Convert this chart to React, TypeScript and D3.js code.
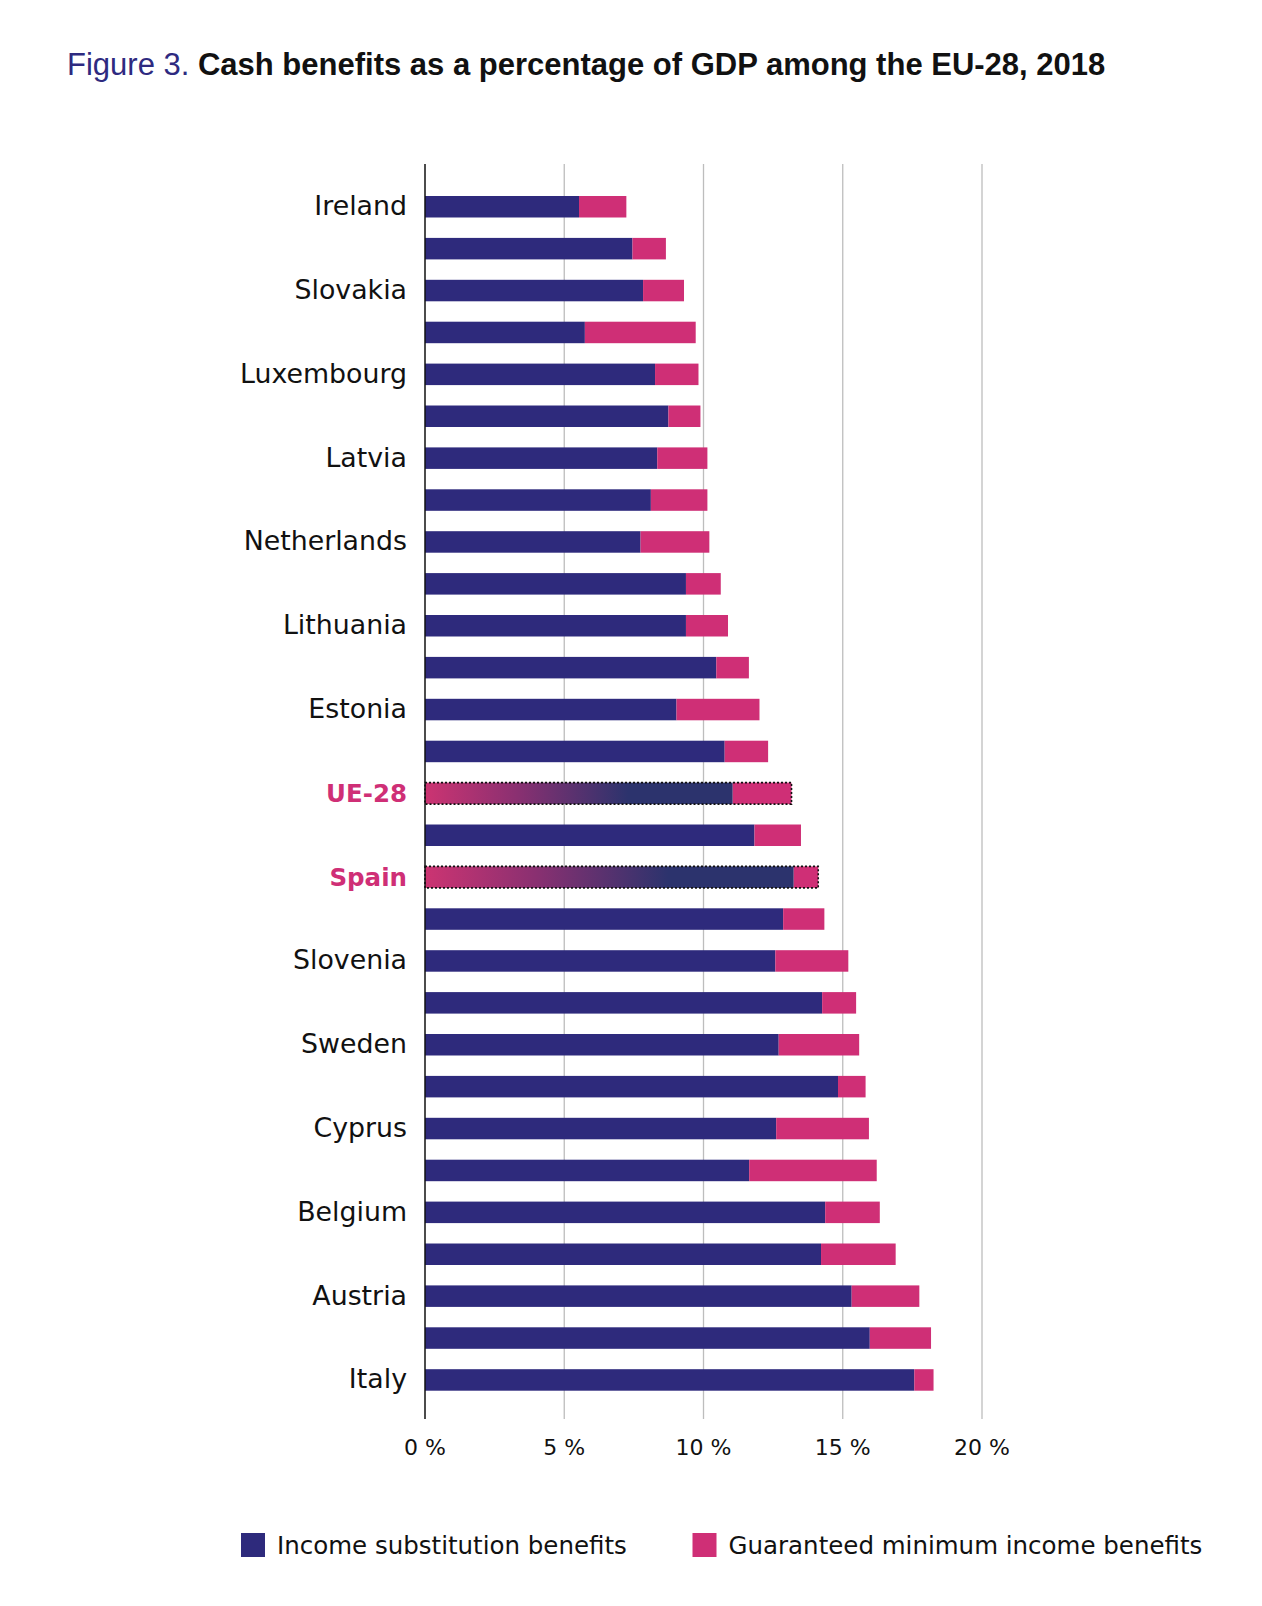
import React, { useEffect, useRef } from 'react';
import * as d3 from 'd3';

// Row labels (only every other row is labelled in the original figure)
const countries = [
  'Ireland', '', 'Slovakia', '', 'Luxembourg', '', 'Latvia', '', 'Netherlands', '',
  'Lithuania', '', 'Estonia', '', 'UE-28', '', 'Spain', '', 'Slovenia', '',
  'Sweden', '', 'Cyprus', '', 'Belgium', '', 'Austria', '', 'Italy',
];

// % of GDP
const incomeSubstitution = [
  5.53, 7.45, 7.83, 5.74, 8.26, 8.74, 8.34, 8.11, 7.74, 9.37,
  9.37, 10.46, 9.03, 10.76, 11.05, 11.83, 13.24, 12.86, 12.58, 14.26,
  12.7, 14.83, 12.61, 11.64, 14.37, 14.22, 15.32, 15.97, 17.57,
];
const guaranteedMinimum = [
  1.7, 1.2, 1.47, 3.98, 1.56, 1.15, 1.8, 2.03, 2.47, 1.25,
  1.51, 1.17, 2.98, 1.56, 2.11, 1.67, 0.88, 1.48, 2.62, 1.22,
  2.89, 0.99, 3.33, 4.58, 1.96, 2.68, 2.43, 2.2, 0.69,
];

const highlighted = ['UE-28', 'Spain'];
const xTicks = [0, 5, 10, 15, 20];
const seriesNames = ['Income substitution benefits', 'Guaranteed minimum income benefits'];

const NAVY = '#2e2a7c';
const PINK = '#cf2f76';
const FONT = '"DejaVu Sans", sans-serif';

export default function App() {
  const svgRef = useRef<SVGSVGElement>(null);

  useEffect(() => {
    if (!svgRef.current) return;
    const svg = d3.select(svgRef.current);
    svg.selectAll('*').remove();

    const W = 1262;
    const H = 1606;
    svg.attr('width', W).attr('height', H);

    const x = d3.scaleLinear().domain([0, 20]).range([425, 982]);
    const y = d3.scaleBand<number>()
      .domain(d3.range(countries.length))
      .range([185.8, 1400.9])
      .paddingInner(0.487)
      .paddingOuter(0.2435);

    const gridTop = 164;
    const gridBottom = 1419;

    // gradient for highlighted rows
    const defs = svg.append('defs');
    const grad = defs.append('linearGradient')
      .attr('id', 'hl')
      .attr('x1', 0).attr('x2', 1).attr('y1', 0).attr('y2', 0);
    grad.append('stop').attr('offset', 0).attr('stop-color', '#cc3472');
    grad.append('stop').attr('offset', 0.3).attr('stop-color', '#8a3071');
    grad.append('stop').attr('offset', 0.66).attr('stop-color', '#2c336d');
    grad.append('stop').attr('offset', 1).attr('stop-color', '#2c336d');

    // Title
    const title = svg.append('text')
      .attr('x', 67)
      .attr('y', 75)
      .style('font-family', '"Liberation Sans", Arial, sans-serif')
      .style('font-size', '31px');
    title.append('tspan').attr('fill', '#2e2a80').text('Figure 3. ');
    title.append('tspan').attr('fill', '#111').style('font-weight', 'bold')
      .text('Cash benefits as a percentage of GDP among the EU-28, 2018');

    // grid lines
    svg.append('g')
      .selectAll('line')
      .data(xTicks.slice(1))
      .join('line')
      .attr('x1', d => x(d)).attr('x2', d => x(d))
      .attr('y1', gridTop).attr('y2', gridBottom)
      .attr('stroke', '#bdbdbd')
      .attr('stroke-width', 1.3);

    // bars
    const rows = svg.append('g')
      .selectAll('g')
      .data(countries.map((c, i) => ({ c, i, a: incomeSubstitution[i], b: guaranteedMinimum[i] })))
      .join('g');

    rows.append('rect')
      .attr('x', x(0))
      .attr('y', d => y(d.i)!)
      .attr('width', d => x(d.a) - x(0))
      .attr('height', y.bandwidth())
      .attr('fill', d => highlighted.includes(d.c) ? 'url(#hl)' : NAVY);

    rows.append('rect')
      .attr('x', d => x(d.a))
      .attr('y', d => y(d.i)!)
      .attr('width', d => x(d.a + d.b) - x(d.a))
      .attr('height', y.bandwidth())
      .attr('fill', PINK);

    rows.filter(d => highlighted.includes(d.c))
      .append('rect')
      .attr('x', x(0))
      .attr('y', d => y(d.i)!)
      .attr('width', d => x(d.a + d.b) - x(0))
      .attr('height', y.bandwidth())
      .attr('fill', 'none')
      .attr('stroke', '#111')
      .attr('stroke-width', 1.6)
      .attr('stroke-dasharray', '2 2');

    // row labels
    rows.filter(d => d.c !== '')
      .append('text')
      .attr('x', 407)
      .attr('y', d => y(d.i)! + y.bandwidth() / 2 + 8.5)
      .attr('text-anchor', 'end')
      .style('font-family', FONT)
      .style('font-size', d => highlighted.includes(d.c) ? '24.5px' : '26.8px')
      .style('font-weight', d => highlighted.includes(d.c) ? 'bold' : 'normal')
      .attr('fill', d => highlighted.includes(d.c) ? PINK : '#111')
      .text(d => d.c);

    // zero axis
    svg.append('line')
      .attr('x1', x(0)).attr('x2', x(0))
      .attr('y1', gridTop).attr('y2', gridBottom)
      .attr('stroke', '#111')
      .attr('stroke-width', 1.5);

    // tick labels
    svg.append('g')
      .selectAll('text')
      .data(xTicks)
      .join('text')
      .attr('x', d => x(d))
      .attr('y', 1455)
      .attr('text-anchor', 'middle')
      .style('font-family', FONT)
      .style('font-size', '22px')
      .attr('fill', '#111')
      .text(d => `${d} %`);

    // legend
    const legend = svg.append('g').attr('transform', 'translate(0,1533)');
    const legendX = [241, 692.5];
    const legendColors = [NAVY, PINK];
    seriesNames.forEach((name, i) => {
      legend.append('rect')
        .attr('x', legendX[i]).attr('y', 0)
        .attr('width', 24).attr('height', 24)
        .attr('fill', legendColors[i]);
      legend.append('text')
        .attr('x', legendX[i] + 36)
        .attr('y', 21)
        .style('font-family', FONT)
        .style('font-size', '24.5px')
        .attr('fill', '#111')
        .text(name);
    });
  }, []);

  return (
    <div style={{ position: 'absolute', left: 0, top: 0, background: '#fff' }}>
      <svg ref={svgRef} style={{ display: 'block' }}></svg>
    </div>
  );
}
